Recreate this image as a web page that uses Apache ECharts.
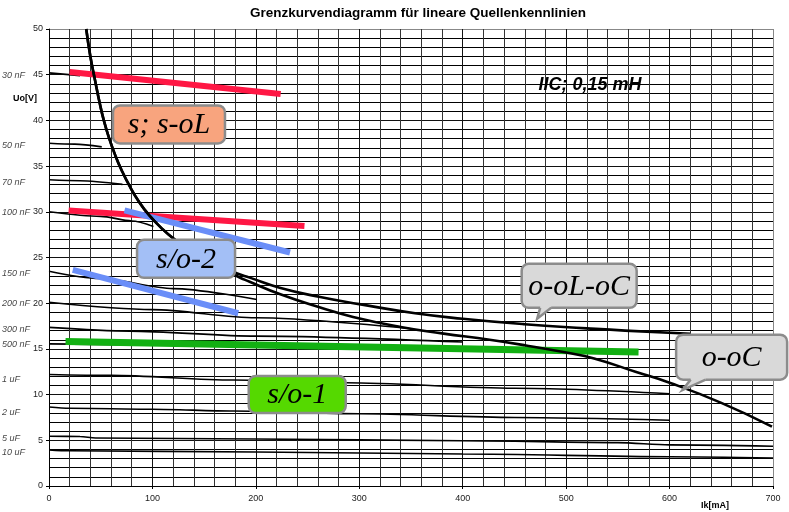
<!DOCTYPE html>
<html><head><meta charset="utf-8">
<script src="https://cdn.jsdelivr.net/npm/echarts/dist/echarts.min.js"></script>
<style>html,body{margin:0;padding:0;background:#fff}#c{width:789px;height:512px}</style>
</head><body><div id="c"></div>
<script>
// ---------- data ----------
const titleText = 'Grenzkurvendiagramm für lineare Quellenkennlinien';
const xLabelText = 'Ik[mA]';
const yLabelText = 'Uo[V]';
const noteText = 'IIC; 0,15 mH';

const capNames  = ['30 nF','50 nF','70 nF','100 nF','150 nF','200 nF','300 nF','500 nF','1 uF','2 uF','5 uF','10 uF'];
const capLabelY = [44.9, 37.2, 33.2, 29.95, 23.2, 20.0, 17.1, 15.45, 11.6, 8.05, 5.15, 3.7];

const c30  = [[0,45.2],[30,44.9]];
const c50  = [[0,37.5],[25,37.4],[51,37.1]];
const c70  = [[0,33.5],[30,33.4],[71,33.0]];
const c100 = [[0,30.0],[50,29.5],[80,29.0],[101,28.4]];
const c150 = [[0,23.5],[49,22.7],[120,21.6],[201,20.4]];
const c200 = [[0,20.1],[100,19.3],[200,18.4],[350,17.2]];
const c300 = [[0,17.35],[78,16.95],[200,16.4],[400,15.75]];
const c500 = [[0,15.55],[200,15.35],[400,15.1]];
const c1u  = [[0,12.2],[60,12.1],[178,11.6],[287,11.3],[450,10.7],[600,10.1]];
const c2u  = [[0,8.65],[20,8.5],[100,8.4],[178,8.2],[300,7.9],[450,7.5],[600,7.2]];
const c5u  = [[0,5.45],[30,5.42],[45,5.25],[200,5.15],[400,4.95],[550,4.75],[600,4.5],[700,4.35]];
const c10u = [[0,3.95],[20,3.85],[200,3.72],[400,3.5],[600,3.2],[700,3.05]];
const capCurves = [c30,c50,c70,c100,c150,c200,c300,c500,c1u,c2u,c5u,c10u];

const steepPart = [[36,50],[40,47.0],[44.5,44.4],[49,41.9],[53,40.0],[58,38.1],[64,36.2],[70,34.6],[78,32.8],[87,31.1],[97,29.6],[108,28.3],[120,27.1],[135,25.9],[150,24.9],[165,24.1]];
const branchOoLoC = [[182,23.25],[194,22.8],[223,21.7],[261,20.7],[300,19.9],[354,18.9],[400,18.3],[460,17.7],[520,17.25],[557,17.0],[620,16.65]];
const branchOoC   = [[182,22.95],[194,22.35],[223,21.0],[260,19.6],[294,18.5],[340,17.4],[380,16.7],[426,16.0],[460,15.4],[500,14.6],[527,13.95],[567,12.5],[600,11.3],[650,9.1],[699,6.5]];

const redA   = [[20,45.3],[224,42.9]];
const redB   = [[19,30.15],[247,28.45]];
const blueA  = [[73,30.15],[233,25.55]];
const blueB  = [[23,23.65],[183,18.9]];
const greenA = [[16,15.8],[570,14.65]];

const boxTexts = ['s; s-oL','s/o-2','s/o-1','o-oL-oC','o-oC'];

// ---------- chart ----------
const chart = echarts.init(document.getElementById('c'), null, {renderer:'canvas'});
const gridCol = '#111';
const series = [];
capCurves.forEach(d => series.push({type:'line', data:d, symbol:'none', smooth:0.3, smoothMonotone:'x',
  lineStyle:{color:'#000', width:1.6}, z:3, silent:true}));
[[redA,'#FF1744',6],[redB,'#FF1744',6],[blueA,'#6A8EF8',6],[blueB,'#6A8EF8',6],[greenA,'#12B012',7]].forEach(s =>
  series.push({type:'line', data:s[0], symbol:'none', lineStyle:{color:s[1], width:s[2]}, z:4, silent:true}));
series.push({type:'line', data:steepPart.concat(branchOoLoC), symbol:'none', smooth:0.5, lineStyle:{color:'#000', width:2.6, join:'round'}, z:5, silent:true});
series.push({type:'line', data:steepPart.concat(branchOoC), symbol:'none', smooth:0.5, lineStyle:{color:'#000', width:2.6, join:'round'}, z:5, silent:true});
series.push({type:'scatter', symbolSize:0, clip:false, silent:true,
  data: capNames.map((n,i)=>({value:[0,capLabelY[i]], name:n})),
  label:{show:true, position:'left', distance:0, align:'left', offset:[-47,0], formatter:p=>p.name,
    fontFamily:'"Liberation Sans", Arial, sans-serif', fontStyle:'italic', fontSize:9, color:'#111'}});

const ySplitCols = []; for (let i=0;i<=10;i++) ySplitCols.push(i===10?'#888':gridCol);
const xSplitCols = []; for (let i=0;i<=7;i++) xSplitCols.push(i===7?'#888':gridCol);

chart.setOption({
  animation:false,
  backgroundColor:'#fff',
  grid:{left:49, right:16, top:29, bottom:26},
  xAxis:{type:'value', min:0, max:700, interval:100,
    axisLine:{lineStyle:{color:'#000', width:1}},
    axisTick:{show:true, length:3, lineStyle:{color:'#000'}},
    axisLabel:{margin:8, fontSize:9, color:'#222', fontFamily:'"Liberation Sans", Arial, sans-serif'},
    splitLine:{show:true, lineStyle:{color:xSplitCols, width:1}},
    minorTick:{show:false, splitNumber:5},
    minorSplitLine:{show:true, lineStyle:{color:'#333', width:1}}},
  yAxis:{type:'value', min:0, max:50, interval:5,
    axisLine:{show:true, lineStyle:{color:'#000', width:1}},
    axisTick:{show:true, length:3, lineStyle:{color:'#000'}},
    axisLabel:{margin:6, fontSize:9, color:'#222', fontFamily:'"Liberation Sans", Arial, sans-serif'},
    splitLine:{show:true, lineStyle:{color:ySplitCols, width:1}},
    minorTick:{show:false, splitNumber:5},
    minorSplitLine:{show:true, lineStyle:{color:'#000', width:1}}},
  series: series
});

// ---------- annotations ----------
function P(x,y){ return chart.convertToPixel({gridIndex:0},[x,y]); }
const serif = '"Liberation Serif", "Times New Roman", serif';
const sans = '"Liberation Sans", Arial, sans-serif';
const boxDefs = [
  {t:boxTexts[0], at:[116,39.56], w:112, h:38, fill:'#F8A47E'},
  {t:boxTexts[1], at:[132.5,24.85], w:98, h:38, fill:'#A3BFF6'},
  {t:boxTexts[2], at:[240,10.0], w:97, h:37, fill:'#55D900'},
  {t:boxTexts[3], at:[512.6,21.9], w:115, h:44, fill:'#D9D9D9', tip:[472,18.3], base:[-39,-28]},
  {t:boxTexts[4], at:[660,14.1], w:111, h:45, fill:'#D9D9D9', tip:[612.5,10.5], base:[-41,-26]}
];
const g = [];
boxDefs.forEach(b => {
  const c = P(b.at[0], b.at[1]);
  const x0 = c[0]-b.w/2, y0 = c[1]-b.h/2, yb = c[1]+b.h/2;
  g.push({type:'rect', shape:{x:x0, y:y0, width:b.w, height:b.h, r:7},
    style:{fill:b.fill, stroke:'#8C8C8C', lineWidth:2.5}, z:100});
  if (b.tip) {
    const tp = P(b.tip[0], b.tip[1]);
    const bx1 = c[0]+b.base[0], bx2 = c[0]+b.base[1];
    g.push({type:'polygon', shape:{points:[[bx1,yb-3],[bx2,yb-3],[bx2,yb],tp,[bx1,yb]]},
      style:{fill:b.fill, stroke:null}, z:101});
    g.push({type:'polyline', shape:{points:[[bx1,yb],tp,[bx2,yb]]},
      style:{fill:null, stroke:'#8C8C8C', lineWidth:2.5}, z:101});
  }
  g.push({type:'text', x:c[0], y:c[1]+1, style:{text:b.t, fontFamily:serif, fontStyle:'italic', fontSize:30,
    fill:'#000', align:'center', verticalAlign:'middle'}, z:102});
});
const np = P(523,43.9);
g.push({type:'text', x:np[0], y:np[1], style:{text:noteText, fontFamily:sans, fontStyle:'italic', fontWeight:'bold',
  fontSize:18, fill:'#000', align:'center', verticalAlign:'middle'}, z:102});
g.push({type:'text', x:418, y:13, style:{text:titleText, fontFamily:sans, fontWeight:'bold', fontSize:13.5,
  fill:'#000', align:'center', verticalAlign:'middle'}, z:102});
g.push({type:'text', x:25, y:P(0,42.35)[1], style:{text:yLabelText, fontFamily:sans, fontWeight:'bold', fontSize:9,
  fill:'#000', align:'center', verticalAlign:'middle'}, z:102});
g.push({type:'text', x:715, y:506, style:{text:xLabelText, fontFamily:sans, fontWeight:'bold', fontSize:9,
  fill:'#000', align:'center', verticalAlign:'middle'}, z:102});
chart.setOption({graphic:g});
</script></body></html>
